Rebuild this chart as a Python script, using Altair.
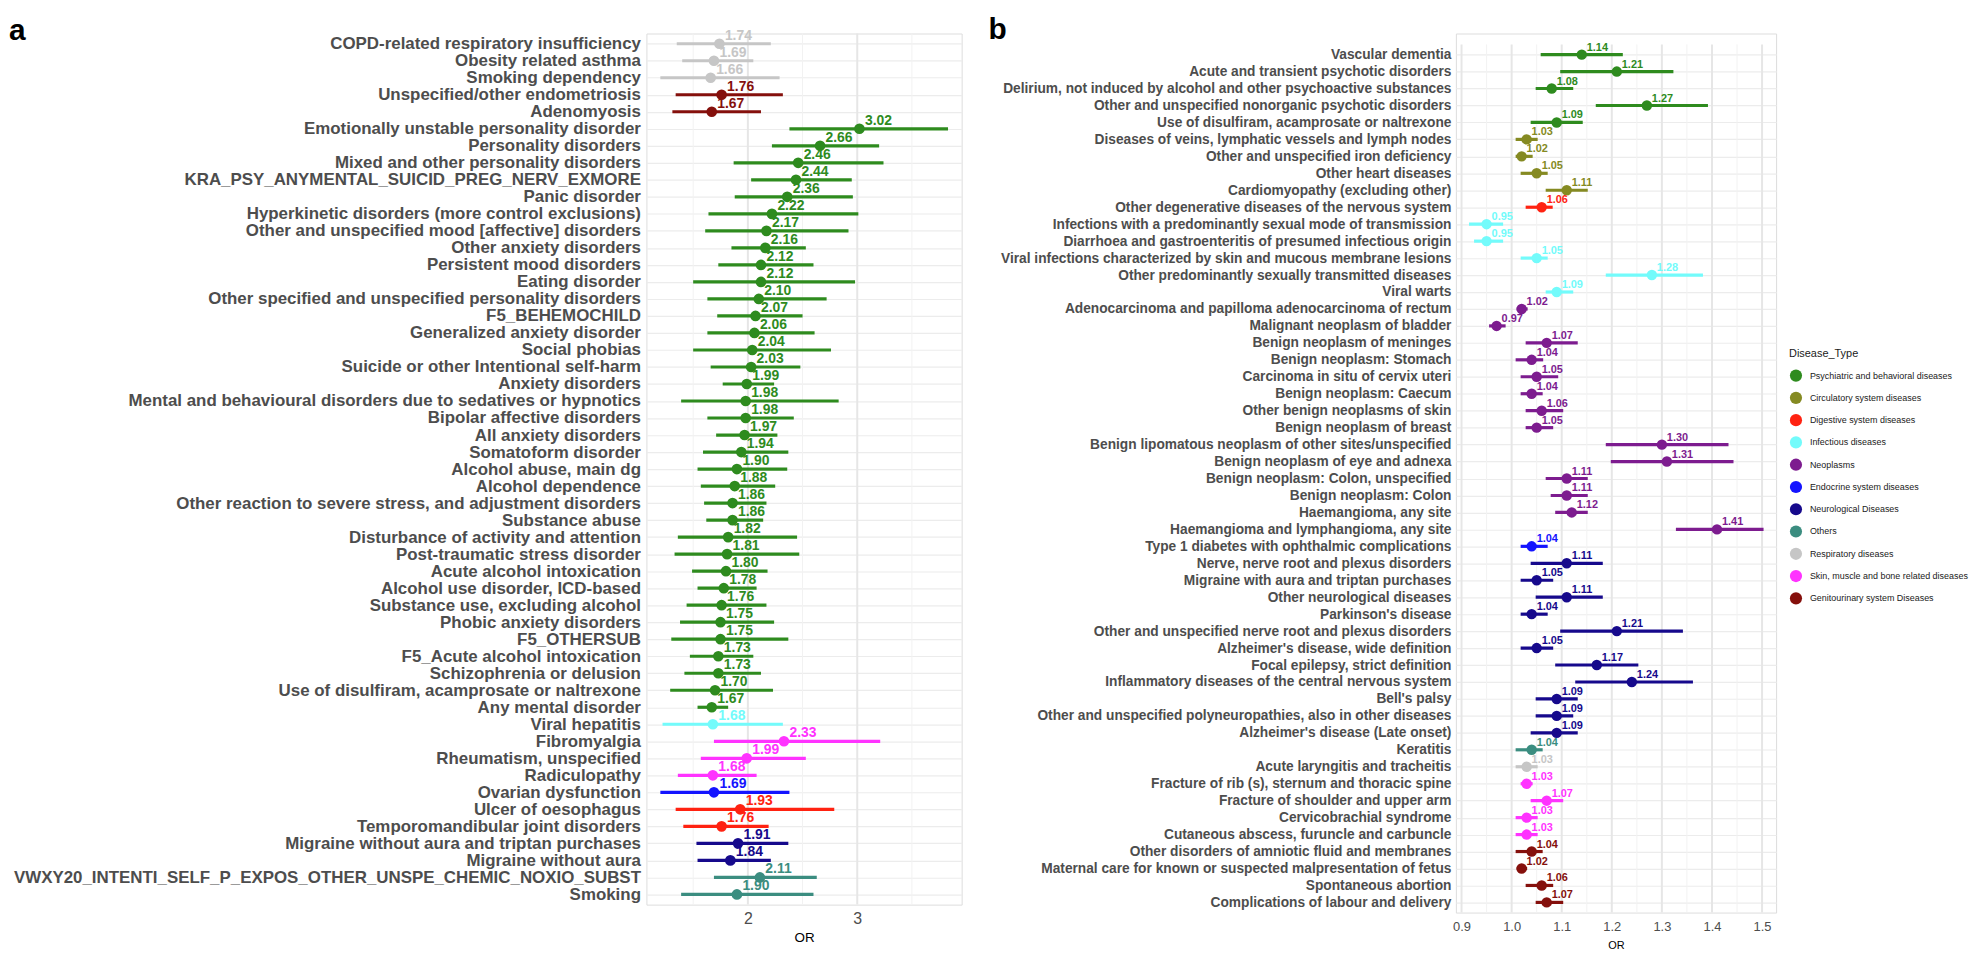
import altair as alt
import pandas as pd

# ---------------- Panel a data ----------------
labels_a = [
    "COPD-related respiratory insufficiency",
    "Obesity related asthma",
    "Smoking dependency",
    "Unspecified/other endometriosis",
    "Adenomyosis",
    "Emotionally unstable personality disorder",
    "Personality disorders",
    "Mixed and other personality disorders",
    "KRA_PSY_ANYMENTAL_SUICID_PREG_NERV_EXMORE",
    "Panic disorder",
    "Hyperkinetic disorders (more control exclusions)",
    "Other and unspecified mood [affective] disorders",
    "Other anxiety disorders",
    "Persistent mood disorders",
    "Eating disorder",
    "Other specified and unspecified personality disorders",
    "F5_BEHEMOCHILD",
    "Generalized anxiety disorder",
    "Social phobias",
    "Suicide or other Intentional self-harm",
    "Anxiety disorders",
    "Mental and behavioural disorders due to sedatives or hypnotics",
    "Bipolar affective disorders",
    "All anxiety disorders",
    "Somatoform disorder",
    "Alcohol abuse, main dg",
    "Alcohol dependence",
    "Other reaction to severe stress, and adjustment disorders",
    "Substance abuse",
    "Disturbance of activity and attention",
    "Post-traumatic stress disorder",
    "Acute alcohol intoxication",
    "Alcohol use disorder, ICD-based",
    "Substance use, excluding alcohol",
    "Phobic anxiety disorders",
    "F5_OTHERSUB",
    "F5_Acute alcohol intoxication",
    "Schizophrenia or delusion",
    "Use of disulfiram, acamprosate or naltrexone",
    "Any mental disorder",
    "Viral hepatitis",
    "Fibromyalgia",
    "Rheumatism, unspecified",
    "Radiculopathy",
    "Ovarian dysfunction",
    "Ulcer of oesophagus",
    "Temporomandibular joint disorders",
    "Migraine without aura and triptan purchases",
    "Migraine without aura",
    "VWXY20_INTENTI_SELF_P_EXPOS_OTHER_UNSPE_CHEMIC_NOXIO_SUBST",
    "Smoking",
]
or_a = [1.74, 1.69, 1.66, 1.76, 1.67, 3.02, 2.66, 2.46, 2.44, 2.36,
        2.22, 2.17, 2.16, 2.12, 2.12, 2.10, 2.07, 2.06, 2.04, 2.03,
        1.99, 1.98, 1.98, 1.97, 1.94, 1.90, 1.88, 1.86, 1.86, 1.82,
        1.81, 1.80, 1.78, 1.76, 1.75, 1.75, 1.73, 1.73, 1.70, 1.67,
        1.68, 2.33, 1.99, 1.68, 1.69, 1.93, 1.76, 1.91, 1.84, 2.11, 1.90]
lo_a = [1.35, 1.40, 1.20, 1.34, 1.31, 2.38, 2.22, 1.87, 2.03, 1.88,
        1.64, 1.61, 1.85, 1.73, 1.50, 1.63, 1.72, 1.63, 1.50, 1.66,
        1.77, 1.39, 1.63, 1.71, 1.59, 1.54, 1.57, 1.60, 1.62, 1.36,
        1.33, 1.49, 1.54, 1.44, 1.38, 1.30, 1.47, 1.42, 1.29, 1.54,
        1.22, 1.69, 1.57, 1.36, 1.20, 1.34, 1.41, 1.53, 1.54, 1.69, 1.39]
hi_a = [2.21, 2.05, 2.29, 2.32, 2.12, 3.83, 3.20, 3.24, 2.95, 2.96,
        3.01, 2.92, 2.53, 2.60, 2.98, 2.72, 2.50, 2.61, 2.76, 2.48,
        2.24, 2.83, 2.42, 2.27, 2.37, 2.36, 2.25, 2.17, 2.14, 2.45,
        2.47, 2.18, 2.08, 2.17, 2.24, 2.37, 2.05, 2.12, 2.23, 1.82,
        2.32, 3.21, 2.53, 2.08, 2.38, 2.79, 2.19, 2.37, 2.21, 2.63, 2.60]
type_a = ["RES", "RES", "RES", "GEN", "GEN",
          "PSY", "PSY", "PSY", "PSY", "PSY", "PSY", "PSY", "PSY", "PSY", "PSY",
          "PSY", "PSY", "PSY", "PSY", "PSY", "PSY", "PSY", "PSY", "PSY", "PSY",
          "PSY", "PSY", "PSY", "PSY", "PSY", "PSY", "PSY", "PSY", "PSY", "PSY",
          "PSY", "PSY", "PSY", "PSY", "PSY",
          "INF", "SKI", "SKI", "SKI", "END", "DIG", "DIG", "NEU", "NEU", "OTH", "OTH"]

# ---------------- Panel b data ----------------
labels_b = [
    "Vascular dementia",
    "Acute and transient psychotic disorders",
    "Delirium, not induced by alcohol and other psychoactive substances",
    "Other and unspecified nonorganic psychotic disorders",
    "Use of disulfiram, acamprosate or naltrexone",
    "Diseases of veins, lymphatic vessels and lymph nodes",
    "Other and unspecified iron deficiency",
    "Other heart diseases",
    "Cardiomyopathy (excluding other)",
    "Other degenerative diseases of the nervous system",
    "Infections with a predominantly sexual mode of transmission",
    "Diarrhoea and gastroenteritis of presumed infectious origin",
    "Viral infections characterized by skin and mucous membrane lesions",
    "Other predominantly sexually transmitted diseases",
    "Viral warts",
    "Adenocarcinoma and papilloma adenocarcinoma of rectum",
    "Malignant neoplasm of bladder\u00a0",
    "Benign neoplasm of meninges",
    "Benign neoplasm: Stomach",
    "Carcinoma in situ of cervix uteri\u00a0",
    "Benign neoplasm: Caecum",
    "Other benign neoplasms of skin",
    "Benign neoplasm of breast",
    "Benign lipomatous neoplasm of other sites/unspecified",
    "Benign neoplasm of eye and adnexa",
    "Benign neoplasm: Colon, unspecified",
    "Benign neoplasm: Colon",
    "Haemangioma, any site",
    "Haemangioma and lymphangioma, any site",
    "Type 1 diabetes with ophthalmic complications",
    "Nerve, nerve root and plexus disorders",
    "Migraine with aura and triptan purchases",
    "Other neurological diseases",
    "Parkinson's disease",
    "Other and unspecified nerve root and plexus disorders",
    "Alzheimer's disease, wide definition",
    "Focal epilepsy, strict definition",
    "Inflammatory diseases of the central nervous system",
    "Bell's palsy",
    "Other and unspecified polyneuropathies, also in other diseases",
    "Alzheimer's disease (Late onset)\u00a0",
    "Keratitis",
    "Acute laryngitis and tracheitis",
    "Fracture of rib (s), sternum and thoracic spine",
    "Fracture of shoulder and upper arm",
    "Cervicobrachial syndrome",
    "Cutaneous abscess, furuncle and carbuncle",
    "Other disorders of amniotic fluid and membranes",
    "Maternal care for known or suspected malpresentation of fetus",
    "Spontaneous abortion",
    "Complications of labour and delivery",
]
or_b = [1.14, 1.21, 1.08, 1.27, 1.09, 1.03, 1.02, 1.05, 1.11, 1.06,
        0.95, 0.95, 1.05, 1.28, 1.09, 1.02, 0.97, 1.07, 1.04, 1.05,
        1.04, 1.06, 1.05, 1.30, 1.31, 1.11, 1.11, 1.12, 1.41, 1.04,
        1.11, 1.05, 1.11, 1.04, 1.21, 1.05, 1.17, 1.24, 1.09, 1.09,
        1.09, 1.04, 1.03, 1.03, 1.07, 1.03, 1.03, 1.04, 1.02, 1.06, 1.07]
lo_b = [1.058, 1.097, 1.048, 1.168, 1.038, 1.008, 1.008, 1.018, 1.068, 1.028,
        0.915, 0.925, 1.018, 1.188, 1.068, 1.010, 0.955, 1.028, 1.008, 1.018,
        1.018, 1.028, 1.028, 1.188, 1.198, 1.068, 1.078, 1.087, 1.328, 1.018,
        1.038, 1.018, 1.048, 1.018, 1.097, 1.018, 1.087, 1.127, 1.048, 1.048,
        1.038, 1.008, 1.008, 1.018, 1.038, 1.008, 1.008, 1.008, 1.010, 1.028, 1.048]
hi_b = [1.222, 1.323, 1.123, 1.392, 1.142, 1.052, 1.042, 1.072, 1.152, 1.082,
        0.983, 0.983, 1.072, 1.382, 1.123, 1.032, 0.988, 1.132, 1.063, 1.093,
        1.062, 1.103, 1.083, 1.433, 1.443, 1.152, 1.152, 1.152, 1.503, 1.072,
        1.182, 1.083, 1.182, 1.072, 1.342, 1.083, 1.253, 1.362, 1.132, 1.123,
        1.132, 1.062, 1.052, 1.042, 1.103, 1.052, 1.052, 1.062, 1.031, 1.083, 1.103]
type_b = ["PSY", "PSY", "PSY", "PSY", "PSY",
          "CIR", "CIR", "CIR", "CIR", "DIG",
          "INF", "INF", "INF", "INF", "INF",
          "NEO", "NEO", "NEO", "NEO", "NEO", "NEO", "NEO", "NEO", "NEO", "NEO",
          "NEO", "NEO", "NEO", "NEO", "END",
          "NEU", "NEU", "NEU", "NEU", "NEU", "NEU", "NEU", "NEU", "NEU", "NEU", "NEU",
          "OTH", "RES", "SKI", "SKI", "SKI", "SKI", "GEN", "GEN", "GEN", "GEN"]

# ---------------- Disease types (legend order) ----------------
type_codes = ["PSY", "CIR", "DIG", "INF", "NEO", "END", "NEU", "OTH", "RES", "SKI", "GEN"]
type_names = ["Psychiatric and behavioral diseases", "Circulatory system diseases",
              "Digestive system diseases", "Infectious diseases", "Neoplasms",
              "Endocrine system diseases", "Neurological Diseases", "Others",
              "Respiratory diseases", "Skin, muscle and bone related diseases",
              "Genitourinary system Diseases"]
type_colors = ["#2E8B1E", "#858A22", "#FF2211", "#73FBFB", "#7D1C8F", "#1414FF",
               "#16098C", "#3B8D80", "#C6C6C6", "#FF33FF", "#85100C"]
code_to_name = dict(zip(type_codes, type_names))

ticks_a = [2, 3]
minor_a = [1.5, 2.5, 3.5]
ticks_b = [0.9, 1.0, 1.1, 1.2, 1.3, 1.4, 1.5]
minor_b = [0.95, 1.05, 1.15, 1.25, 1.35, 1.45]

df_a = pd.DataFrame({"label": labels_a, "OR": or_a, "lo": lo_a, "hi": hi_a,
                     "Disease_Type": [code_to_name[c] for c in type_a]})
df_b = pd.DataFrame({"label": labels_b, "OR": or_b, "lo": lo_b, "hi": hi_b,
                     "Disease_Type": [code_to_name[c] for c in type_b]})

FONT = "Liberation Sans, Arial, Helvetica, sans-serif"

# colour scale for the points (carries the legend)
color_scale = alt.Scale(domain=type_names, range=type_colors)
# same mapping, listed in reverse order, for the bars and value labels
# (a different domain listing keeps their hidden legends from merging)
aux_scale = alt.Scale(domain=type_names[::-1], range=type_colors[::-1])

# legend coordinates are relative to the origin of panel a's plot area
legend = alt.Legend(
    title="Disease_Type", orient="none", legendX=1149, legendY=316, padding=0,
    titleFont=FONT, titleFontSize=11, titleFontWeight="normal", titleColor="#1a1a1a",
    titlePadding=10, labelFont=FONT, labelFontSize=9, labelColor="#1a1a1a",
    labelOffset=7, symbolType="circle", symbolSize=150,
    rowPadding=8.4, labelLimit=400,
)


def panel(df, xdom, major, minor, width, height, y_top, tag, tag_x, tag_y,
          lab_size, lab_pad, val_size, val_dx, pt_size,
          tick_size, tick_pad, tick_fmt, title_size, title_pad):
    order = list(df["label"])
    yenc = alt.Y("label:N", sort=order,
                 scale=alt.Scale(type="point", padding=0.6, range=[y_top, height]),
                 axis=alt.Axis(title=None, ticks=False, domain=False,
                               labelFont=FONT, labelFontSize=lab_size,
                               labelFontWeight="bold", labelColor="#4d4d4d",
                               labelPadding=lab_pad, labelLimit=1000,
                               labelOverlap=False, grid=True,
                               gridColor="#ececec", gridWidth=1.2))
    xs = alt.Scale(domain=xdom, nice=False, zero=False)
    xaxis = alt.Axis(values=major, format=tick_fmt, title="OR",
                     titleFont=FONT, titleFontSize=title_size,
                     titleFontWeight="normal", titleColor="#000000",
                     titlePadding=title_pad, ticks=False, domain=False,
                     labelFont=FONT, labelFontSize=tick_size,
                     labelColor="#4d4d4d", labelPadding=tick_pad,
                     labelFlush=False, grid=False)

    minor_rules = alt.Chart(pd.DataFrame({"v": minor})).mark_rule(
        color="#f2f2f2", strokeWidth=1
    ).encode(x=alt.X("v:Q", scale=xs, axis=xaxis),
             y=alt.value(y_top), y2=alt.value(height))
    major_rules = alt.Chart(pd.DataFrame({"v": major})).mark_rule(
        color="#e6e6e6", strokeWidth=2
    ).encode(x=alt.X("v:Q", scale=xs, axis=xaxis),
             y=alt.value(y_top), y2=alt.value(height))

    base = alt.Chart(df)
    bars = base.mark_rule(strokeWidth=3.2).encode(
        x=alt.X("lo:Q", scale=xs, axis=xaxis), x2="hi:Q", y=yenc,
        stroke=alt.Stroke("Disease_Type:N", scale=aux_scale, legend=None))
    pts = base.mark_circle(size=pt_size, opacity=1).encode(
        x=alt.X("OR:Q", scale=xs, axis=xaxis), y=yenc,
        color=alt.Color("Disease_Type:N", scale=color_scale, legend=legend))
    txt = base.mark_text(align="left", baseline="alphabetic", dx=val_dx, dy=-4,
                         font=FONT, fontSize=val_size, fontWeight="bold").encode(
        x=alt.X("OR:Q", scale=xs, axis=xaxis), y=yenc,
        fill=alt.Fill("Disease_Type:N", scale=aux_scale, legend=None),
        text=alt.Text("OR:Q", format=".2f"))
    tagc = alt.Chart(pd.DataFrame({"tag": [tag]})).mark_text(
        align="left", baseline="alphabetic", font=FONT, fontSize=30,
        fontWeight="bold", color="#000000"
    ).encode(x=alt.value(tag_x), y=alt.value(tag_y), text="tag:N")

    return alt.layer(minor_rules, major_rules, bars, pts, txt, tagc).properties(
        width=width, height=height)


panel_a = panel(df_a, [1.0727, 3.9545], ticks_a, minor_a, 317, 876, 0,
                "a", -641, 6.6,
                17, 6, 14, 5.5, 115,
                16, 5.6, "d", 13.5, 4)
panel_b = panel(df_b, [0.8887, 1.528], ticks_b, minor_b, 322, 884, 11,
                "b", -470, 5.3,
                13.8, 5, 11, 5, 110,
                13, 7.8, ".1f", 11, 6.5)

chart = alt.hconcat(panel_a, panel_b, spacing=25).properties(
    padding={"left": 0, "top": 3, "right": 0, "bottom": 0}
).configure_view(stroke=None).configure(background="white")

chart.save("out.html", embed_options={"renderer": "svg", "actions": False})
